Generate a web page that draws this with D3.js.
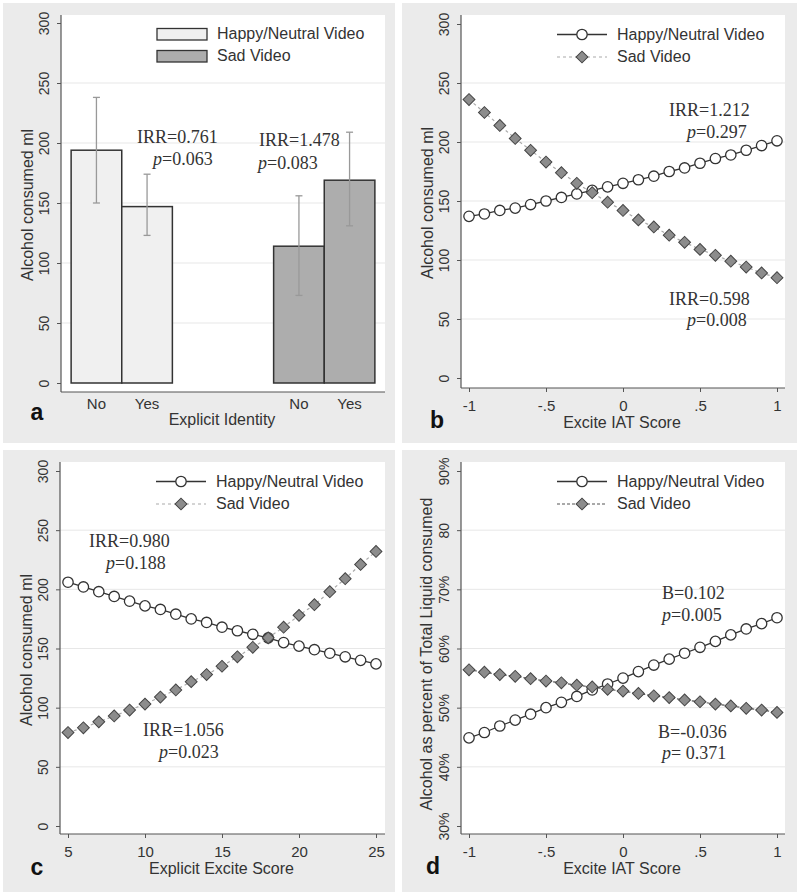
<!DOCTYPE html>
<html><head><meta charset="utf-8">
<script src="https://cdn.jsdelivr.net/npm/d3@7"></script>
<style>
body{margin:0;background:#fff}
svg{display:block}
</style>
</head><body>
<svg id="chart" width="800" height="895"></svg>
<script>
// ---------------- DATA ----------------
const barGroups = ["Happy/Neutral Video", "Sad Video"];
const barCategories = ["No", "Yes"];
const barHappy = [194, 147];
const barHappyLow = [150, 123];
const barHappyHigh = [238, 174];
const barSad = [114, 169];
const barSadLow = [73, 131];
const barSadHigh = [156, 209];

const iatScores = [-1, -0.9, -0.8, -0.7, -0.6, -0.5, -0.4, -0.3, -0.2, -0.1, 0, 0.1, 0.2, 0.3, 0.4, 0.5, 0.6, 0.7, 0.8, 0.9, 1];
const iatHappyML = [137, 139, 142, 144, 147, 150, 153, 156, 159, 162, 165, 168, 171, 175, 178, 182, 186, 189, 193, 197, 201];
const iatSadML = [236, 225, 214, 203, 193, 183, 174, 165, 157, 149, 142, 134, 128, 121, 115, 109, 104, 99, 94, 89, 85];

const explicitScores = [5, 6, 7, 8, 9, 10, 11, 12, 13, 14, 15, 16, 17, 18, 19, 20, 21, 22, 23, 24, 25];
const explicitHappyML = [206, 202, 198, 194, 190, 186, 183, 179, 175, 172, 168, 165, 162, 159, 155, 152, 149, 146, 143, 140, 137];
const explicitSadML = [79, 83, 88, 93, 98, 103, 109, 115, 122, 128, 135, 143, 151, 159, 168, 178, 187, 198, 209, 221, 232];

const iatHappyPct = [44.9, 45.8, 46.9, 47.9, 48.9, 50.0, 50.9, 51.9, 53.0, 54.0, 55.0, 56.1, 57.2, 58.2, 59.2, 60.2, 61.2, 62.3, 63.3, 64.2, 65.2];
const iatSadPct = [56.4, 56.0, 55.6, 55.3, 54.9, 54.5, 54.2, 53.8, 53.5, 53.1, 52.8, 52.4, 52.0, 51.7, 51.3, 51.0, 50.6, 50.3, 49.9, 49.6, 49.2];

const mlTicks = [0, 50, 100, 150, 200, 250, 300];
const mlTickLabels = ["0", "50", "100", "150", "200", "250", "300"];
const pctTicks = [30, 40, 50, 60, 70, 80, 90];
const pctTickLabels = ["30%", "40%", "50%", "60%", "70%", "80", "90%"];
const iatTicks = [-1, -0.5, 0, 0.5, 1];
const iatTickLabels = ["-1", "-.5", "0", ".5", "1"];
const explicitTicks = [5, 10, 15, 20, 25];
const explicitTickLabels = ["5", "10", "15", "20", "25"];
const legendLabels = ["Happy/Neutral Video", "Sad Video"];

// ---------------- STYLE ----------------
const SANS = "'Liberation Sans', Arial, sans-serif";
const SERIF = "'Liberation Serif', 'Times New Roman', serif";
const TXT = "#333";
const AX = "#555";
const svg = d3.select("#chart");

function frame(cfg) {
  const g = svg.append("g");
  g.append("rect").attr("x", cfg.bg[0]).attr("y", cfg.bg[1]).attr("width", cfg.bg[2] - cfg.bg[0]).attr("height", cfg.bg[3] - cfg.bg[1]).attr("fill", "#ebebeb");
  g.append("rect").attr("x", cfg.L).attr("y", cfg.T).attr("width", cfg.R - cfg.L).attr("height", cfg.B - cfg.T).attr("fill", "#fff");
  const y = d3.scaleLinear().domain(cfg.yDomain).range(cfg.yRange);
  g.selectAll(null).data(cfg.yTicks.slice(1, -1)).join("line")
    .attr("x1", cfg.L).attr("x2", cfg.R).attr("y1", d => y(d)).attr("y2", d => y(d))
    .attr("stroke", "#e7e7e7").attr("stroke-width", 1);
  const ya = g.append("g").attr("transform", `translate(${cfg.L},0)`)
    .call(d3.axisLeft(y).tickValues(cfg.yTicks).tickFormat((d, i) => cfg.yLabels[i]).tickSize(4).tickSizeOuter(0))
    .attr("font-family", SANS).attr("font-size", 14).attr("color", AX);
  ya.select(".domain").remove();
  ya.selectAll(".tick text").attr("transform", "rotate(-90)").attr("x", 0).attr("y", -12).attr("dy", null)
    .attr("text-anchor", "middle").attr("fill", TXT);
  g.append("line").attr("x1", cfg.L).attr("x2", cfg.L).attr("y1", cfg.T).attr("y2", cfg.B).attr("stroke", AX).attr("stroke-width", 1.2);
  g.append("line").attr("x1", cfg.L).attr("x2", cfg.R).attr("y1", cfg.B).attr("y2", cfg.B).attr("stroke", AX).attr("stroke-width", 1.2);
  // axis titles
  g.append("text").attr("transform", `translate(${cfg.yTitleX},${cfg.yTitleY}) rotate(-90)`)
    .attr("text-anchor", "middle").attr("font-family", SANS).attr("font-size", 16).attr("fill", TXT).text(cfg.yTitle);
  g.append("text").attr("x", (cfg.L + cfg.R) / 2 - 1).attr("y", cfg.xTitleY)
    .attr("text-anchor", "middle").attr("font-family", SANS).attr("font-size", 16).attr("fill", TXT).text(cfg.xTitle);
  g.append("text").attr("x", cfg.letterX).attr("y", cfg.letterY).attr("text-anchor", "middle")
    .attr("font-family", SANS).attr("font-weight", "bold").attr("font-size", 23).attr("fill", "#111").text(cfg.letter);
  // annotations
  cfg.notes.forEach(n => {
    const t = g.append("text").attr("x", n.x).attr("y", n.y).attr("font-family", SERIF).attr("font-size", 18).attr("fill", TXT);
    if (n.p) {
      t.append("tspan").attr("font-style", "italic").text("p");
      t.append("tspan").text(n.t);
    } else t.text(n.t);
  });
  return {g, y};
}

// ---------- Panel a (bars) ----------
(function () {
  const cfg = {bg: [3, 3, 395, 443], L: 61, R: 385, T: 15, B: 392, yDomain: [0, 300], yRange: [383, 23],
    yTicks: mlTicks, yLabels: mlTickLabels, yTitle: "Alcohol consumed ml", yTitleX: 33, yTitleY: 205,
    xTitle: "Explicit Identity", xTitleY: 425, letter: "a", letterX: 37, letterY: 420,
    notes: [{x: 137, y: 143, t: "IRR=0.761"}, {x: 153, y: 165, t: "=0.063", p: true},
            {x: 259, y: 146, t: "IRR=1.478"}, {x: 258, y: 169, t: "=0.083", p: true}]};
  const {g, y} = frame(cfg);
  const x0 = d3.scaleBand().domain(barGroups).range([cfg.L, cfg.R]).paddingInner(0.5).paddingOuter(0.05);
  const x1 = d3.scaleBand().domain(barCategories).range([0, x0.bandwidth()]);
  const series = [
    {grp: barGroups[0], vals: barHappy, lo: barHappyLow, hi: barHappyHigh, fill: "#f0f0f0"},
    {grp: barGroups[1], vals: barSad, lo: barSadLow, hi: barSadHigh, fill: "#adadad"}
  ];
  series.forEach(s => {
    const gg = g.append("g").attr("transform", `translate(${x0(s.grp)},0)`);
    gg.selectAll("rect").data(s.vals).join("rect")
      .attr("x", (d, i) => x1(barCategories[i])).attr("width", x1.bandwidth())
      .attr("y", d => y(d)).attr("height", d => y(0) - y(d))
      .attr("fill", s.fill).attr("stroke", "#333").attr("stroke-width", 1.5);
    s.vals.forEach((v, i) => {
      const cx = x1(barCategories[i]) + x1.bandwidth() / 2;
      gg.append("line").attr("x1", cx).attr("x2", cx).attr("y1", y(s.lo[i])).attr("y2", y(s.hi[i])).attr("stroke", "#999").attr("stroke-width", 1.3);
      [s.lo[i], s.hi[i]].forEach(e => gg.append("line").attr("x1", cx - 3.5).attr("x2", cx + 3.5).attr("y1", y(e)).attr("y2", y(e)).attr("stroke", "#999").attr("stroke-width", 1.3));
      gg.append("text").attr("x", cx).attr("y", 409).attr("text-anchor", "middle").attr("font-family", SANS).attr("font-size", 15).attr("fill", TXT).text(barCategories[i]);
    });
  });
  // legend
  series.forEach((s, i) => {
    const cy = [34, 56][i];
    g.append("rect").attr("x", 157).attr("y", cy - 5.5).attr("width", 50).attr("height", 11.5).attr("fill", s.fill).attr("stroke", "#333").attr("stroke-width", 1.3);
    g.append("text").attr("x", 217).attr("y", cy + 5).attr("font-family", SANS).attr("font-size", 16).attr("fill", TXT).text(legendLabels[i]);
  });
})();

// ---------- line panels ----------
function diamond(sel, x, y) {
  sel.append("path").attr("d", d3.symbol(d3.symbolSquare, 70)()).attr("transform", `translate(${x},${y}) rotate(45)`)
    .attr("fill", "#8c8c8c").attr("stroke", "#444").attr("stroke-width", 1);
}
function linePanel(cfg, xs, happy, sad) {
  const {g, y} = frame(cfg);
  const x = d3.scaleLinear().domain(cfg.xDomain).range(cfg.xRange);
  const xa = g.append("g").attr("transform", `translate(0,${cfg.B})`)
    .call(d3.axisBottom(x).tickValues(cfg.xTicks).tickFormat((d, i) => cfg.xLabels[i]).tickSize(4).tickSizeOuter(0))
    .attr("font-family", SANS).attr("font-size", 15).attr("color", AX);
  xa.select(".domain").remove();
  xa.selectAll(".tick text").attr("y", 23).attr("dy", null).attr("fill", TXT);
  const line = d3.line().x((d, i) => x(xs[i])).y(d => y(d));
  g.append("path").datum(happy).attr("d", line).attr("fill", "none").attr("stroke", "#333").attr("stroke-width", 1.3);
  g.selectAll(null).data(happy).join("circle").attr("cx", (d, i) => x(xs[i])).attr("cy", d => y(d)).attr("r", 5.2)
    .attr("fill", "#fff").attr("stroke", "#333").attr("stroke-width", 1.3);
  g.append("path").datum(sad).attr("d", line).attr("fill", "none").attr("stroke", cfg.sadColor).attr("stroke-width", 1.2).attr("stroke-dasharray", cfg.sadDash);
  sad.forEach((d, i) => diamond(g, x(xs[i]), y(d)));
  // legend
  const lx = cfg.L + 96, r1 = cfg.T + 19.5, r2 = cfg.T + 42;
  g.append("line").attr("x1", lx).attr("x2", lx + 50).attr("y1", r1).attr("y2", r1).attr("stroke", "#333").attr("stroke-width", 1.3);
  g.append("circle").attr("cx", lx + 25).attr("cy", r1).attr("r", 5.2).attr("fill", "#fff").attr("stroke", "#333").attr("stroke-width", 1.3);
  g.append("line").attr("x1", lx).attr("x2", lx + 50).attr("y1", r2).attr("y2", r2).attr("stroke", cfg.sadColor).attr("stroke-width", 1.2).attr("stroke-dasharray", cfg.sadDash);
  diamond(g, lx + 25, r2);
  g.append("text").attr("x", lx + 60).attr("y", r1 + 5).attr("font-family", SANS).attr("font-size", 16).attr("fill", TXT).text(legendLabels[0]);
  g.append("text").attr("x", lx + 60).attr("y", r2 + 5).attr("font-family", SANS).attr("font-size", 16).attr("fill", TXT).text(legendLabels[1]);
}

// Panel b
linePanel({bg: [402, 3, 797, 443], L: 461, R: 785, T: 15, B: 388, yDomain: [0, 300], yRange: [378, 24],
  yTicks: mlTicks, yLabels: mlTickLabels, yTitle: "Alcohol consumed ml", yTitleX: 433, yTitleY: 203,
  xDomain: [-1, 1], xRange: [469, 777], xTicks: iatTicks, xLabels: iatTickLabels,
  xTitle: "Excite IAT Score", xTitleY: 428, letter: "b", letterX: 437, letterY: 428,
  sadColor: "#aaa", sadDash: "3,3",
  notes: [{x: 669, y: 116, t: "IRR=1.212"}, {x: 687, y: 138, t: "=0.297", p: true},
          {x: 669, y: 305, t: "IRR=0.598"}, {x: 687, y: 326, t: "=0.008", p: true}]},
  iatScores, iatHappyML, iatSadML);

// Panel c
linePanel({bg: [3, 450, 395, 892], L: 60, R: 385, T: 462, B: 834, yDomain: [0, 300], yRange: [826, 471],
  yTicks: mlTicks, yLabels: mlTickLabels, yTitle: "Alcohol consumed ml", yTitleX: 32, yTitleY: 650,
  xDomain: [5, 25], xRange: [68, 376], xTicks: explicitTicks, xLabels: explicitTickLabels,
  xTitle: "Explicit Excite Score", xTitleY: 874, letter: "c", letterX: 37, letterY: 875,
  sadColor: "#aaa", sadDash: "3,3",
  notes: [{x: 89, y: 547, t: "IRR=0.980"}, {x: 106, y: 569, t: "=0.188", p: true},
          {x: 143, y: 736, t: "IRR=1.056"}, {x: 159, y: 758, t: "=0.023", p: true}]},
  explicitScores, explicitHappyML, explicitSadML);

// Panel d
linePanel({bg: [402, 450, 797, 892], L: 461, R: 785, T: 462, B: 834, yDomain: [30, 90], yRange: [826, 471],
  yTicks: pctTicks, yLabels: pctTickLabels, yTitle: "Alcohol as percent of Total Liquid consumed", yTitleX: 432, yTitleY: 654,
  xDomain: [-1, 1], xRange: [469, 777], xTicks: iatTicks, xLabels: iatTickLabels,
  xTitle: "Excite IAT Score", xTitleY: 874, letter: "d", letterX: 433, letterY: 874,
  sadColor: "#555", sadDash: "3,2",
  notes: [{x: 662, y: 599, t: "B=0.102"}, {x: 662, y: 621, t: "=0.005", p: true},
          {x: 658, y: 738, t: "B=-0.036"}, {x: 662, y: 759, t: "= 0.371", p: true}]},
  iatScores, iatHappyPct, iatSadPct);
</script>
</body></html>
